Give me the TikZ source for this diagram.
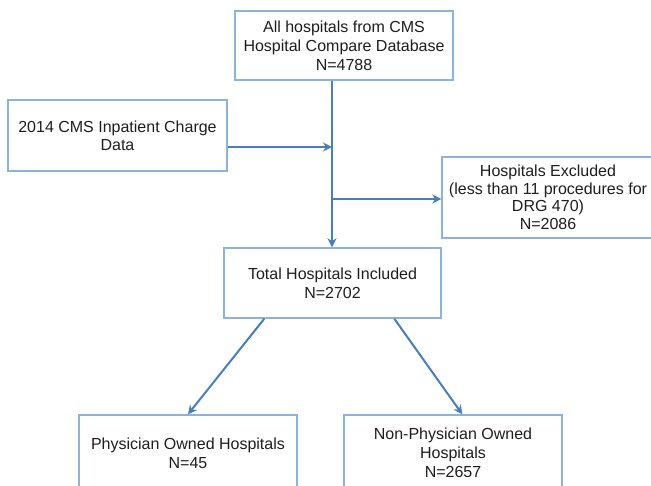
\documentclass[tikz,border=0pt]{standalone}
\usepackage{fontspec}
\setmainfont{Liberation Sans}
\usetikzlibrary{arrows.meta,calc}
\definecolor{boxline}{RGB}{140,178,224}
\definecolor{arrowline}{RGB}{74,126,187}
\definecolor{textcol}{RGB}{30,30,30}
\begin{document}
\begin{tikzpicture}[x=1pt,y=-1pt,
  box/.style={draw=boxline,line width=1.4pt,fill=white,inner sep=0pt,align=center,
    text=textcol,font=\fontsize{16}{19}\selectfont},
  conn/.style={draw=arrowline,line width=2pt},
  arr/.style={conn,-{Stealth[length=9pt,width=9pt]}}]
\clip (0,0) rectangle (651,485);
\useasboundingbox (0,0) rectangle (651,485);
\fill[white] (0,0) rectangle (651,485);
\node[box,minimum width=218pt,minimum height=69pt] (all) at (344,45.5)
  {All hospitals from CMS\\Hospital Compare Database\\N=4788};
\node[box,minimum width=219pt,minimum height=71pt] (inp) at (117.5,135.5)
  {\raisebox{-2pt}{\shortstack{2014 CMS Inpatient Charge\\[1pt]Data}}};
\node[box,minimum width=212pt,minimum height=81pt,font=\fontsize{16}{17.5}\selectfont] (exc) at (548,197.5)
  {Hospitals Excluded\\(less than 11 procedures for\\DRG 470)\\N=2086};
\node[box,minimum width=217pt,minimum height=70pt] (tot) at (332.5,283)
  {Total Hospitals Included\\N=2702};
\node[box,minimum width=218pt,minimum height=76pt] (phy) at (188,453)
  {Physician Owned Hospitals\\N=45};
\node[box,minimum width=218pt,minimum height=76pt] (non) at (453,453)
  {Non-Physician Owned\\Hospitals\\N=2657};
\coordinate (j1) at (332,147);
\coordinate (j2) at (332,199);
\draw[arr] (j1 |- all.south) -- (j1 |- tot.north);
\draw[arr] (inp.east |- j1) -- (j1);
\draw[arr] (j2) -- (j2 -| exc.west);
\draw[arr] ($(tot.south west)+(41,0)$) -- (phy.north);
\draw[arr] ($(tot.south west)+(171,0)$) -- ($(non.north west)+(119,0)$);
\end{tikzpicture}
\end{document}
